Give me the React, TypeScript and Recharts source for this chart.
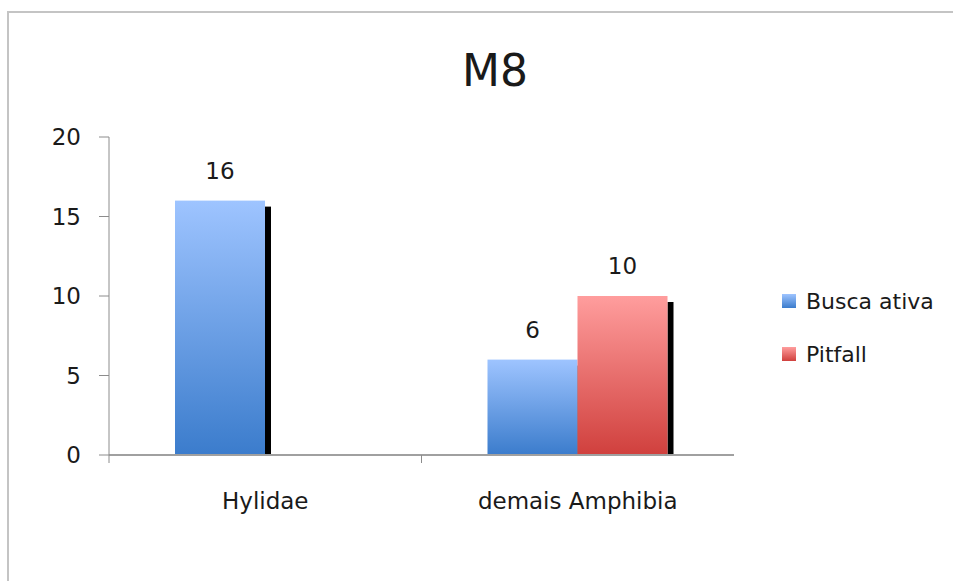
import { BarChart, Bar, XAxis, YAxis, Legend, LabelList } from "recharts";

// chart values
const categories = ["Hylidae", "demais Amphibia"];
const buscaAtiva = [16, 6];
const pitfall = [0, 10];
const yTicks = [0, 5, 10, 15, 20];

const FONT = "'DejaVu Sans', sans-serif";
const TEXT = "#1a1a1a";

const W = 953;
const H = 581;
const MARGIN = { top: 137, right: 219, left: 0, bottom: 0 };
const Y_AXIS_W = 109;
const PLOT_W = W - MARGIN.right - Y_AXIS_W;

const SERIES = [
  { key: "busca", name: "Busca ativa", light: "#9ec4ff", dark: "#3b7ccc", id: "gradBusca" },
  { key: "pitfall", name: "Pitfall", light: "#ff9d9d", dark: "#d0403d", id: "gradPitfall" },
];

const data = categories.map((name, i) => ({
  name,
  busca: buscaAtiva[i],
  pitfall: pitfall[i],
}));

// bar with the little black drop shadow on the right
const ShadowBar = (props: any) => {
  const { x, y, width, height, fill } = props;
  if (!height || height <= 0) return <g />;
  return (
    <g>
      <rect x={x + width} y={y + 6} width={6} height={height - 6} fill="#000" />
      <rect x={x} y={y} width={width} height={height} fill={fill} />
    </g>
  );
};

const renderValue = (props: any) => {
  const { x, y, width, value } = props;
  if (!value) return null;
  return (
    <text x={x + width / 2} y={y - 22} textAnchor="middle" fontSize={23} fill={TEXT} fontFamily={FONT}>
      {value}
    </text>
  );
};

// category label + Excel-style tick on the band boundary
const CategoryTick = (props: any) => {
  const { x, y, payload } = props;
  const band = PLOT_W / categories.length;
  return (
    <g>
      <line x1={x - band / 2} x2={x - band / 2} y1={y} y2={y + 8} stroke="#8c8c8c" strokeWidth={1} />
      <text x={x} y={y + 54} textAnchor="middle" fontSize={23} fill={TEXT} fontFamily={FONT}>
        {payload.value}
      </text>
    </g>
  );
};

const renderLegend = () => (
  <div style={{ fontFamily: FONT, fontSize: 22, color: TEXT }}>
    {SERIES.map((s, i) => (
      <div
        key={s.key}
        style={{ display: "flex", alignItems: "center", height: 28, marginBottom: i === 0 ? 25 : 0 }}
      >
        <div
          style={{
            width: 14,
            height: 14,
            background: `linear-gradient(${s.light}, ${s.dark})`,
            marginRight: 10,
          }}
        />
        <span>{s.name}</span>
      </div>
    ))}
  </div>
);

export default function App() {
  return (
    <div style={{ position: "absolute", left: 0, top: 0, width: W, height: H, background: "#fff" }}>
      {/* chart frame */}
      <div
        style={{
          position: "absolute",
          left: 7,
          top: 11,
          width: W - 7,
          height: H - 11,
          boxSizing: "border-box",
          borderTop: "2px solid #c4c4c4",
          borderLeft: "2px solid #c4c4c4",
        }}
      />
      <div
        style={{
          position: "absolute",
          left: 395,
          top: 49,
          width: 200,
          textAlign: "center",
          fontFamily: FONT,
          fontSize: 44,
          lineHeight: "44px",
          color: TEXT,
        }}
      >
        M8
      </div>
      <div style={{ position: "absolute", left: 0, top: 0 }}>
        <BarChart width={W} height={H} data={data} margin={MARGIN} barSize={90} barGap={0}>
          <defs>
            {SERIES.map((s) => (
              <linearGradient key={s.id} id={s.id} x1="0" y1="0" x2="0" y2="1">
                <stop offset="0%" stopColor={s.light} />
                <stop offset="100%" stopColor={s.dark} />
              </linearGradient>
            ))}
          </defs>
          <XAxis
            dataKey="name"
            height={H - 455}
            axisLine={{ stroke: "#a0a0a0", strokeWidth: 2 }}
            tickLine={false}
            tickSize={0}
            tickMargin={0}
            tick={<CategoryTick />}
            interval={0}
          />
          <YAxis
            width={Y_AXIS_W}
            domain={[0, 20]}
            ticks={yTicks}
            axisLine={{ stroke: "#8c8c8c", strokeWidth: 1 }}
            tickLine={{ stroke: "#8c8c8c", strokeWidth: 1 }}
            tickSize={10}
            tickMargin={18}
            tick={{ fontSize: 23, fill: TEXT, fontFamily: FONT }}
          />
          <Legend
            layout="vertical"
            align="center"
            verticalAlign="middle"
            wrapperStyle={{ left: 782, top: 287, width: 170 }}
            content={renderLegend}
          />
          {SERIES.map((s) => (
            <Bar
              key={s.key}
              dataKey={s.key}
              name={s.name}
              fill={`url(#${s.id})`}
              shape={<ShadowBar />}
              isAnimationActive={false}
            >
              <LabelList dataKey={s.key} content={renderValue} />
            </Bar>
          ))}
        </BarChart>
      </div>
    </div>
  );
}
